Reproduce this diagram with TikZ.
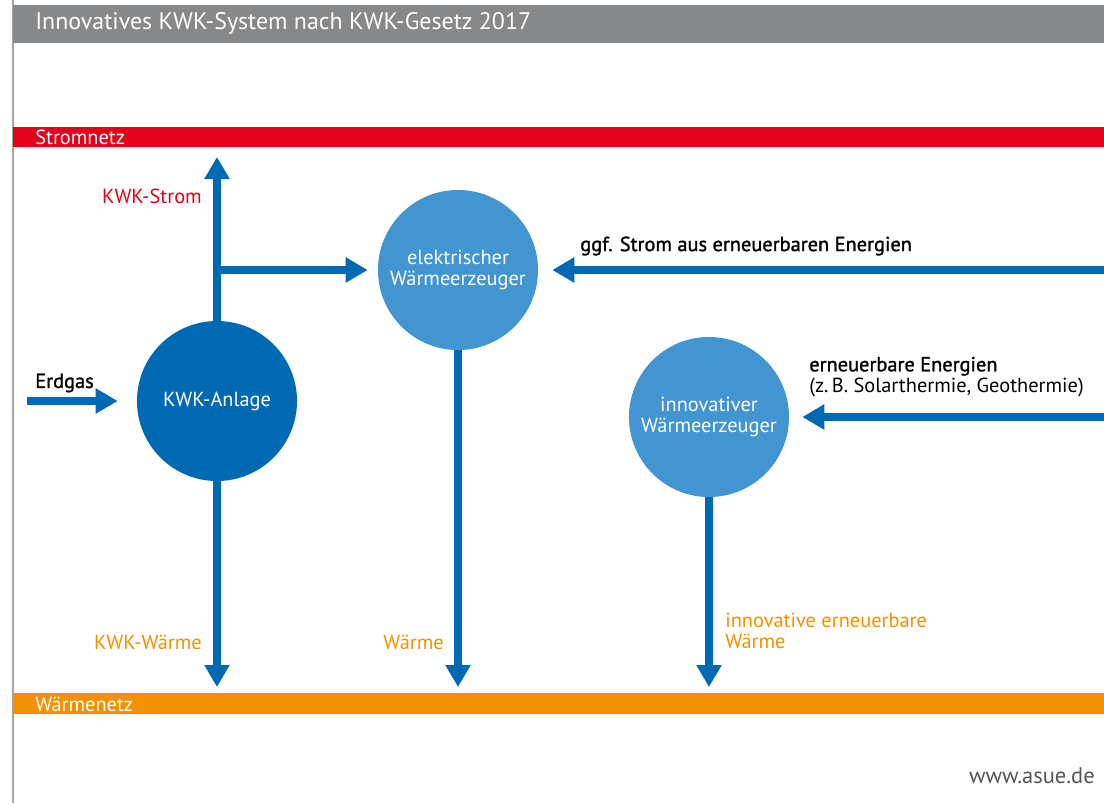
\documentclass[tikz,border=0pt]{standalone}
\usepackage{fontspec}
\setmainfont{PT Sans}
\newfontfamily\semifont[FakeBold=1.3]{PT Sans}
\usetikzlibrary{arrows.meta, positioning, calc}

\definecolor{kwkblue}{HTML}{0069B4}
\definecolor{lightblue}{HTML}{4395D1}
\definecolor{netzred}{HTML}{E2001A}
\definecolor{netzorange}{HTML}{F39200}
\definecolor{titlegrey}{HTML}{87888A}
\definecolor{urlgrey}{HTML}{555555}

\newcommand{\labelfont}{\fontsize{14.5}{15.2}\selectfont}
\newcommand{\barfont}{\fontsize{14.5}{16}\selectfont}

\tikzset{
	flow/.style={line width=0.2cm, draw=kwkblue, -{Triangle[length=0.55cm, width=0.6cm]}},
	darkunit/.style={circle, fill=kwkblue, minimum size=4cm, inner sep=0pt, text=white, align=center, font=\labelfont},
	lightunit/.style={darkunit, fill=lightblue},
	txt/.style={font=\labelfont, inner sep=0pt, align=left},
	bartxt/.style={font=\barfont, text=white, inner sep=0pt, anchor=west},
}

\begin{document}
\begin{tikzpicture}[x=0.025cm, y=-0.025cm]
	\useasboundingbox (0,0) rectangle (1104,803);
	\fill[white] (0,0) rectangle (1104,803);
	
	% Frame line and title bar
	\draw[gray!70, line width=0.05cm] (13,0) -- (13,803);
	\fill[titlegrey] (13,5) rectangle (1104,43);
	\node[bartxt, font=\fontsize{17}{19}\selectfont] (title) at (35,23) {Innovatives KWK-System nach KWK-Gesetz 2017};
	
	% Grids
	\fill[netzred] (13,127) rectangle (1104,147);
	\node[bartxt] (strom) at (35,137) {Stromnetz};
	\fill[netzorange] (13,693) rectangle (1104,714);
	\node[bartxt] (waerme) at (35,704) {Wärmenetz};
	
	% Units
	\node[darkunit] (kwk) at (217,401) {KWK-Anlage};
	\node[lightunit] (elek) at (458,270) {elektrischer\\Wärmeerzeuger};
	\node[lightunit] (innov) at (709,417) {innovativer\\Wärmeerzeuger};
	
	% Free ends of the arrows
	\coordinate (gas) at (27,401);
	\coordinate (stromtip) at (217,157);
	\coordinate (branch) at (217,270);
	\coordinate (ggf) at (1104,270);
	\coordinate (ee) at (1104,417);
	\coordinate (bottom) at (0,687);
	
	% Arrows
	\draw[flow, shorten >=0.475cm] (gas) -- (kwk.west);
	\draw[flow] (kwk.north) -- (stromtip);
	\draw[flow, shorten >=0.25cm] (branch) -- (elek.west);
	\draw[flow, shorten >=0.35cm] (ggf) -- (elek.east);
	\draw[flow, shorten >=0.325cm] (ee) -- (innov.east);
	\draw[flow] (kwk.south) -- (kwk.south |- bottom);
	\draw[flow] (elek.south) -- (elek.south |- bottom);
	\draw[flow] (innov.south) -- (innov.south |- bottom);
	
	% Labels
	\node[txt, anchor=west] (erdgas) at (35,383) {\semifont Erdgas};
	\node[txt, anchor=east, text=netzred] (kwkstrom) at (202,196) {KWK-Strom};
	\node[txt, anchor=west] (ggftxt) at (580,246) {\semifont ggf. Strom aus erneuerbaren Energien};
	\node[txt, anchor=west] (eetxt) at (809,377) {{\semifont erneuerbare Energien}\\(z.\,B. Solarthermie, Geothermie)};
	\node[txt, anchor=east, text=netzorange] (kwkwaerme) at (202,642) {KWK-Wärme};
	\node[txt, anchor=east, text=netzorange] (waermetxt) at (444,642) {Wärme};
	\node[txt, anchor=west, text=netzorange] (innowaerme) at (725,631) {innovative erneuerbare\\Wärme};
	\node[txt, anchor=east, text=urlgrey, font=\fontsize{16}{18}\selectfont] (url) at (1095,776) {www.asue.de};
\end{tikzpicture}
\end{document}
